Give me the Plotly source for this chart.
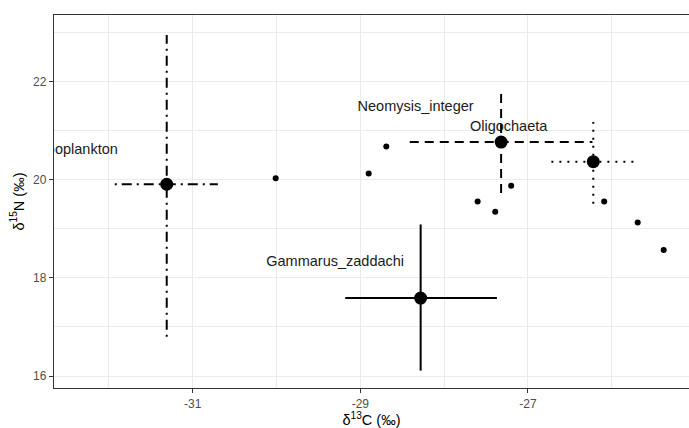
import plotly.graph_objects as go

# Group summaries
groups = ["Zooplankton", "Neomysis_integer", "Oligochaeta", "Gammarus_zaddachi"]
mean_c = [-31.31, -27.32, -26.22, -28.28]
mean_n = [19.91, 20.77, 20.37, 17.59]
c_lo = [-31.93, -28.41, -26.72, -29.18]
c_hi = [-30.70, -26.23, -25.73, -27.37]
n_lo = [16.80, 19.73, 19.51, 16.11]
n_hi = [22.95, 21.81, 21.18, 19.09]
dashes = ["2px,5px,10px,5px", "9px,6px", "2px,6px", "solid"]

# Label positions
label_c = [-32.37, -28.34, -27.23, -29.30]
label_n = [20.61, 21.48, 21.07, 18.32]

# Individual samples
pts_c = [-30.01, -28.90, -28.69, -27.60, -27.39, -27.20, -26.09, -25.69, -25.38]
pts_n = [20.03, 20.13, 20.68, 19.56, 19.35, 19.88, 19.56, 19.13, 18.57]

fig = go.Figure()

for i, g in enumerate(groups):
    ln = dict(color="black", width=2, dash=dashes[i])
    fig.add_trace(go.Scatter(x=[c_lo[i], c_hi[i]], y=[mean_n[i], mean_n[i]], mode="lines",
                             line=ln, showlegend=False, hoverinfo="skip"))
    fig.add_trace(go.Scatter(x=[mean_c[i], mean_c[i]], y=[n_lo[i], n_hi[i]], mode="lines",
                             line=ln, showlegend=False, hoverinfo="skip"))

fig.add_trace(go.Scatter(x=pts_c, y=pts_n, mode="markers",
                         marker=dict(color="black", size=6), showlegend=False))
fig.add_trace(go.Scatter(x=mean_c, y=mean_n, mode="markers",
                         marker=dict(color="black", size=13), showlegend=False))
fig.add_trace(go.Scatter(x=label_c, y=label_n, mode="text", text=groups,
                         textfont=dict(family="Liberation Sans, Arial", size=14.5, color="#1a1a1a"),
                         textposition="middle center", cliponaxis=True, showlegend=False))

axis_common = dict(
    showgrid=True, gridcolor="#ebebeb", gridwidth=1,
    zeroline=False, ticks="outside", ticklen=4, tickcolor="#333333", tickwidth=1,
    tickfont=dict(family="Liberation Sans, Arial", size=12, color="#4d4d4d"),
    showline=True, linecolor="#333333", linewidth=1.3,
)

fig.update_xaxes(
    **axis_common,
    range=[-32.655, -25.078], tickvals=[-31, -29, -27], ticktext=["-31", "-29", "-27"],
    minor=dict(tickvals=[-32, -30, -28, -26], showgrid=True, gridcolor="#ebebeb", gridwidth=0.7, ticks=""),
    mirror=True,
    title=dict(text="δ<sup>13</sup>C (‰)", standoff=4,
               font=dict(family="Liberation Sans, Arial", size=14.5, color="black")),
)
fig.update_yaxes(
    **axis_common,
    range=[15.756, 23.36], tickvals=[16, 18, 20, 22], ticktext=["16", "18", "20", "22"],
    minor=dict(tickvals=[17, 19, 21, 23], showgrid=True, gridcolor="#ebebeb", gridwidth=0.7, ticks=""),
    mirror=False,
    title=dict(text="δ<sup>15</sup>N (‰)", standoff=5,
               font=dict(family="Liberation Sans, Arial", size=14.5, color="black")),
)

fig.update_layout(
    width=689, height=428,
    margin=dict(l=54, r=0, t=15, b=40),
    plot_bgcolor="white", paper_bgcolor="white",
    showlegend=False,
)

fig.write_html("out.html")
